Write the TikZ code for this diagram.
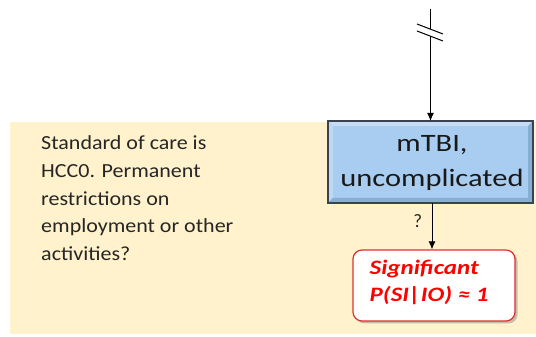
\documentclass[tikz,border=0pt]{standalone}
\usepackage{fontspec}
\setmainfont{Carlito}
\usetikzlibrary{arrows.meta,shadows,calc}
\definecolor{panel}{HTML}{FFF2CC}
\definecolor{boxblue}{HTML}{A9CDF0}
\definecolor{bevlight}{HTML}{C6DDF4}
\definecolor{bevdark}{HTML}{88AED4}
\definecolor{boxedge}{HTML}{3A4450}
\definecolor{sigred}{HTML}{FF0000}
\definecolor{sigedge}{HTML}{E03030}
\tikzset{
  flowarrow/.style={draw=black, line width=1pt, -{Latex[length=8pt,width=7pt]}},
  bodytext/.style={font=\fontsize{20}{27.75}\selectfont, align=left, inner sep=0pt, text=black!85, xscale=1.1},
  sigbox/.style={draw=sigedge, line width=1.2pt, fill=white, rounded corners=9pt,
    minimum width=162pt, minimum height=71pt, inner sep=0pt,
    drop shadow={opacity=0.45, shadow xshift=2.5pt, shadow yshift=-2.5pt}},
}
\begin{document}
\begin{tikzpicture}[x=1pt,y=1pt]
\useasboundingbox (0,0) rectangle (536,337);
% background panel
\fill[panel] (10,3) rectangle (536,215);

% bevelled blue box
\begin{scope}
\fill[boxblue] (328,134) rectangle (533,216);
\fill[bevlight] (328,216) -- (533,216) -- (528,211) -- (333,211) -- cycle;
\fill[bevlight!70!boxblue] (328,216) -- (333,211) -- (333,139) -- (328,134) -- cycle;
\fill[bevdark] (533,216) -- (528,211) -- (528,139) -- (533,134) -- cycle;
\fill[bevdark] (328,134) -- (333,139) -- (528,139) -- (533,134) -- cycle;
\draw[boxedge, line width=1.2pt] (328,134) rectangle (533,216);
\end{scope}
\coordinate (tbitop) at (430.5,216);
\coordinate (tbibot) at (432,134);
\node[inner sep=0pt, font=\fontsize{25}{34.7}\selectfont, align=center, text=black!90, xscale=1.22]
  (tbitxt) at (432,174) {mTBI,\\uncomplicated};

% red outcome box
\node[sigbox] (sig) at (434,051.5) {};
\node[font=\bfseries\itshape\fontsize{20.5}{27}\selectfont, text=sigred, align=left, inner sep=0pt, xscale=1.22, anchor=west]
  (sigtxt) at ($(sig.west)+(17,3)$) {Significant\\P(SI|IO) ≈ 1};

% incoming arrow with break mark
\coordinate (top) at (430.5,328);
\draw[flowarrow] (top) -- (tbitop);
\fill[white] (417,313) -- (443,303) -- (443,296) -- (417,306) -- cycle;
\draw[black, line width=1pt] (417,313) -- (443,303);
\draw[black, line width=1pt] (417,306) -- (443,296);

% question arrow
\draw[flowarrow] (tbibot) -- (sig.north -| tbibot)
  node[pos=0.4, left=6pt, font=\fontsize{19}{19}\selectfont, text=black!85] (q) {?};

% explanatory text
\node[bodytext, anchor=north west] (std) at (41,201.5)
  {Standard of care is\\HCC0. Permanent\\restrictions on\\employment or other\\activities?};
\end{tikzpicture}
\end{document}
